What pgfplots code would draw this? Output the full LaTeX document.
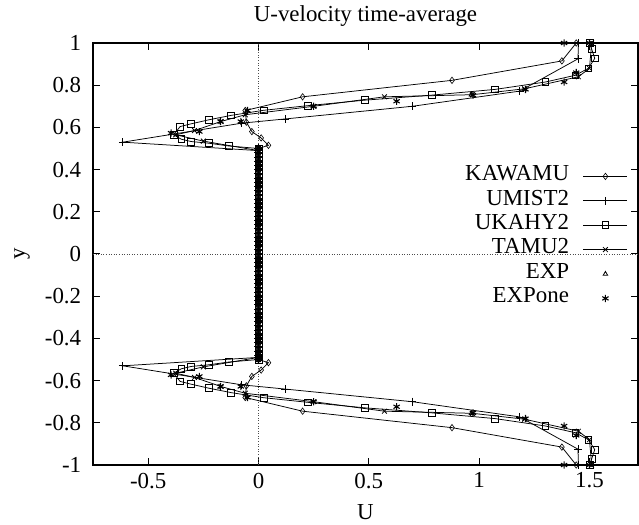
\documentclass[border=0pt]{standalone}
\usepackage{fontspec}
\setmainfont{Liberation Serif}
\usepackage{pgfplots}
\pgfplotsset{compat=1.18}
\usepackage{pgfplotstable}

\pgfplotstableread{
U y
0 -0.50
0 -0.48
0 -0.46
0 -0.44
0 -0.42
0 -0.40
0 -0.38
0 -0.36
0 -0.34
0 -0.32
0 -0.30
0 -0.28
0 -0.26
0 -0.24
0 -0.22
0 -0.20
0 -0.18
0 -0.16
0 -0.14
0 -0.12
0 -0.10
0 -0.08
0 -0.06
0 -0.04
0 -0.02
0 0.00
0 0.02
0 0.04
0 0.06
0 0.08
0 0.10
0 0.12
0 0.14
0 0.16
0 0.18
0 0.20
0 0.22
0 0.24
0 0.26
0 0.28
0 0.30
0 0.32
0 0.34
0 0.36
0 0.38
0 0.40
0 0.42
0 0.44
0 0.46
0 0.48
0 0.50
}\core

\pgfplotsset{
  mylegend/.style={legend image code/.code={%
    \draw[mark repeat=2,mark phase=2,##1] plot coordinates {(0bp,0bp)(22bp,0bp)(44bp,0bp)};}},
  kaw/.style={black, line width=0.75bp, mark=diamond, mark size=3.2bp, mark options={solid, line width=0.6bp, fill=white}},
  umi/.style={black, line width=0.75bp, mark=+, mark size=4bp, mark options={solid, line width=0.7bp}},
  uka/.style={black, line width=0.75bp, mark=square, mark size=3.4bp, mark options={solid, line width=0.7bp, fill=white}},
  tam/.style={black, line width=0.75bp, mark=x, mark size=3.4bp, mark options={solid, line width=0.8bp}},
  exa/.style={black, only marks, mark=triangle, mark size=2.6bp, mark options={solid, line width=0.8bp}},
  exo/.style={black, only marks, mark=asterisk, mark size=3.6bp, mark options={solid, line width=1.1bp}},
}

\begin{document}
\fontsize{23}{27}\selectfont
\begin{tikzpicture}
\useasboundingbox (-93bp,-60bp) rectangle (546bp,465bp);
\begin{axis}[
  at={(0bp,0bp)}, anchor=south west,
  scale only axis, width=545bp, height=422bp,
  xmin=-0.75, xmax=1.72, ymin=-1, ymax=1,
  xtick={-0.5,0,0.5,1,1.5},
  ytick={-1,-0.8,-0.6,-0.4,-0.2,0,0.2,0.4,0.6,0.8,1},
  yticklabels={-1,-0.8,-0.6,-0.4,-0.2,0,0.2,0.4,0.6,0.8,1},
  xticklabels={-0.5,0,0.5,1,1.5},
  /pgf/number format/assume math mode=true,
  axis line style={line width=1.5bp, black},
  major tick length=7bp,
  tick style={line width=1bp, black},
  yticklabel style={xshift=-4bp},
  title={U-velocity time-average},
  title style={at={(axis description cs:0.5,1)}, anchor=base, yshift=16bp, inner sep=0pt},
  xlabel={U},
  xlabel style={at={(axis description cs:0.5,-0.111)}, anchor=center, inner sep=0pt},
  ylabel={y},
  ylabel style={at={(axis description cs:-0.130,0.5)}, anchor=center, inner sep=0pt},
  legend plot pos=right,
  legend cell align=right,
  legend style={draw=none, fill=none, at={(axis description cs:1,1)}, anchor=north east,
    xshift=-10bp, yshift=-121bp, inner sep=0pt, column sep=14bp, row sep=0pt,
    nodes={inner sep=0pt, text height=16.5bp, text depth=7.9bp}},
  clip=false,
]
% zero axes
\addplot[forget plot, black!70, dotted, line width=0.6bp] coordinates {(0,-1) (0,1)};
\addplot[forget plot, black!70, dotted, line width=0.6bp] coordinates {(-0.75,0) (1.72,0)};

% KAWAMU
\addplot[kaw, mylegend] coordinates {(0,0.50) (0.045,0.515) (0.012,0.55) (-0.03,0.58) (-0.055,0.625) (-0.06,0.68) (0.20,0.745) (0.877,0.823) (1.375,0.915) (1.44,1.0)};
\addlegendentry{KAWAMU}
\addplot[kaw, forget plot] table {\core};
\addplot[kaw, forget plot] coordinates {(0,-0.50) (0.045,-0.515) (0.012,-0.55) (-0.03,-0.58) (-0.055,-0.625) (-0.06,-0.68) (0.20,-0.745) (0.877,-0.823) (1.375,-0.915) (1.44,-1.0)};

% UMIST2
\addplot[umi, mylegend] coordinates {(0,0.49) (-0.615,0.53) (-0.076,0.62) (0.12,0.64) (0.697,0.70) (1.184,0.772) (1.448,0.925) (1.45,1.0)};
\addlegendentry{UMIST2}
\addplot[umi, forget plot] table {\core};
\addplot[umi, forget plot] coordinates {(0,-0.49) (-0.615,-0.53) (-0.076,-0.62) (0.12,-0.64) (0.697,-0.70) (1.184,-0.772) (1.448,-0.925) (1.45,-1.0)};

% UKAHY2
\addplot[uka, mylegend] coordinates {(0,0.50) (-0.135,0.512) (-0.225,0.525) (-0.305,0.533) (-0.35,0.544) (-0.385,0.565) (-0.355,0.604) (-0.305,0.617) (-0.225,0.636) (-0.124,0.657) (0.023,0.681) (0.224,0.703) (0.481,0.729) (0.786,0.753) (1.072,0.78) (1.30,0.815) (1.436,0.847) (1.495,0.88) (1.524,0.927) (1.51,0.971) (1.50,1.0)};
\addlegendentry{UKAHY2}
\addplot[uka, forget plot] table {\core};
\addplot[uka, forget plot] coordinates {(0,-0.50) (-0.135,-0.512) (-0.225,-0.525) (-0.305,-0.533) (-0.35,-0.544) (-0.385,-0.565) (-0.355,-0.604) (-0.305,-0.617) (-0.225,-0.636) (-0.124,-0.657) (0.023,-0.681) (0.224,-0.703) (0.481,-0.729) (0.786,-0.753) (1.072,-0.78) (1.30,-0.815) (1.436,-0.847) (1.495,-0.88) (1.524,-0.927) (1.51,-0.971) (1.50,-1.0)};

% TAMU2
\addplot[tam, mylegend] coordinates {(0,0.49) (-0.25,0.535) (-0.375,0.565) (-0.29,0.585) (-0.17,0.628) (-0.06,0.66) (0.25,0.70) (0.571,0.745) (0.97,0.755) (1.206,0.783) (1.45,0.84) (1.50,0.88) (1.51,1.0)};
\addlegendentry{TAMU2}
\addplot[tam, forget plot] table {\core};
\addplot[tam, forget plot] coordinates {(0,-0.49) (-0.25,-0.535) (-0.375,-0.565) (-0.29,-0.585) (-0.17,-0.628) (-0.06,-0.66) (0.25,-0.70) (0.571,-0.745) (0.97,-0.755) (1.206,-0.783) (1.45,-0.84) (1.50,-0.88) (1.51,-1.0)};

% EXP
\addplot[exa, mylegend] coordinates {(0.965,0.755) (0.965,-0.755)};
\addlegendentry{EXP}

% EXPone
\addplot[exo, mylegend] coordinates {(-0.396,0.573) (-0.268,0.58) (-0.172,0.628) (-0.08,0.628) (-0.05,0.68) (0.25,0.70) (0.626,0.724) (0.972,0.753) (1.21,0.78) (1.385,0.815) (1.44,0.86) (1.385,1.0) (1.50,1.0)
 (-0.396,-0.573) (-0.268,-0.58) (-0.172,-0.628) (-0.08,-0.628) (-0.05,-0.68) (0.25,-0.70) (0.626,-0.724) (0.972,-0.753) (1.21,-0.78) (1.385,-0.815) (1.44,-0.86) (1.385,-1.0) (1.50,-1.0)};
\addlegendentry{EXPone}
\end{axis}
\end{tikzpicture}
\end{document}
